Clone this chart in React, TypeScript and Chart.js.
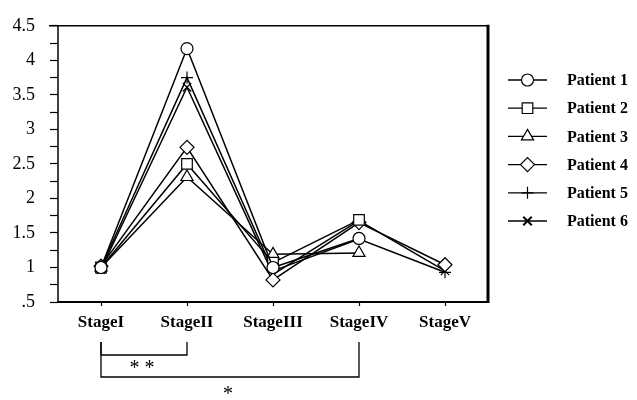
import React, { useEffect, useRef } from "react";
import { Chart, registerables } from "chart.js";

Chart.register(...registerables);

const stages = ["StageI", "StageII", "StageIII", "StageIV", "StageV"];
const patientNames = ["Patient 1", "Patient 2", "Patient 3", "Patient 4", "Patient 5", "Patient 6"];
const patient1 = [1.0, 4.17, 1.0, 1.42, null];
const patient2 = [1.0, 2.5, 1.07, 1.69, null];
const patient3 = [1.0, 2.31, 1.19, 1.21, null];
const patient4 = [1.02, 2.74, 0.82, 1.65, 1.04];
const patient5 = [1.0, 3.75, 0.95, 1.41, 0.93];
const patient6 = [0.97, 3.61, 0.9, 1.68, 0.95];
const pointStyles = ["circle", "rect", "triangle", "rectRot", "cross", "crossRot"];
const pointSizes = [6, 7.5, 7, 7, 6, 6];
const yMin = 0.5;
const yMax = 4.5;
const yStep = 0.25;
const bracketFrom = [0, 0];
const bracketTo = [1, 3];
const bracketLabels = ["* *", "*"];

const SERIF = '"Liberation Serif", "Times New Roman", serif';

function drawPointShape(ctx: CanvasRenderingContext2D, style: string, r: number, x: number, y: number) {
  ctx.beginPath();
  switch (style) {
    case "circle":
      ctx.arc(x, y, r, 0, Math.PI * 2);
      ctx.fill();
      ctx.stroke();
      break;
    case "rect": {
      const s = Math.SQRT1_2 * r;
      ctx.rect(x - s, y - s, 2 * s, 2 * s);
      ctx.fill();
      ctx.stroke();
      break;
    }
    case "triangle": {
      ctx.moveTo(x, y - r);
      ctx.lineTo(x + r * Math.sin((Math.PI * 2) / 3), y - r * Math.cos((Math.PI * 2) / 3));
      ctx.lineTo(x - r * Math.sin((Math.PI * 2) / 3), y - r * Math.cos((Math.PI * 2) / 3));
      ctx.closePath();
      ctx.fill();
      ctx.stroke();
      break;
    }
    case "rectRot":
      ctx.moveTo(x, y - r);
      ctx.lineTo(x + r, y);
      ctx.lineTo(x, y + r);
      ctx.lineTo(x - r, y);
      ctx.closePath();
      ctx.fill();
      ctx.stroke();
      break;
    case "cross":
      ctx.moveTo(x, y - r);
      ctx.lineTo(x, y + r);
      ctx.moveTo(x - r, y);
      ctx.lineTo(x + r, y);
      ctx.stroke();
      break;
    case "crossRot": {
      const d = r * Math.SQRT1_2;
      ctx.lineWidth = 2;
      ctx.moveTo(x - d, y - d);
      ctx.lineTo(x + d, y + d);
      ctx.moveTo(x + d, y - d);
      ctx.lineTo(x - d, y + d);
      ctx.stroke();
      break;
    }
  }
}

const decorPlugin = {
  id: "decor",
  afterDraw(chart: any) {
    const { ctx, chartArea } = chart;
    const { left, right, top, bottom } = chartArea;
    const xs = chart.scales.x;
    ctx.save();
    ctx.strokeStyle = "#000";
    ctx.fillStyle = "#000";
    // frame
    ctx.lineWidth = 1.5;
    ctx.beginPath();
    ctx.moveTo(left - 9, top);
    ctx.lineTo(right, top);
    ctx.stroke();
    ctx.beginPath();
    ctx.moveTo(left, top);
    ctx.lineTo(left, bottom);
    ctx.stroke();
    ctx.lineWidth = 2;
    ctx.beginPath();
    ctx.moveTo(left - 1, bottom);
    ctx.lineTo(right, bottom);
    ctx.stroke();
    ctx.lineWidth = 3;
    ctx.beginPath();
    ctx.moveTo(right, top - 1);
    ctx.lineTo(right, bottom + 1);
    ctx.stroke();

    // legend
    const datasets = chart.data.datasets;
    const lx0 = right + 20;
    const lx1 = right + 59;
    const tx = right + 79;
    datasets.forEach((ds: any, i: number) => {
      const y = 80 + i * 28.2;
      ctx.lineWidth = 1.3;
      ctx.strokeStyle = "#000";
      ctx.beginPath();
      ctx.moveTo(lx0, y);
      ctx.lineTo(lx1, y);
      ctx.stroke();
      ctx.fillStyle = "#fff";
      ctx.lineWidth = 1.2;
      drawPointShape(ctx, ds.pointStyle, ds.pointRadius, (lx0 + lx1) / 2, y);
      ctx.fillStyle = "#000";
      ctx.font = `bold 16px ${SERIF}`;
      ctx.textAlign = "left";
      ctx.textBaseline = "middle";
      ctx.fillText(ds.label, tx, y + 1);
    });

    // significance brackets
    const baseY = bottom + 40;
    const depths = [53, 75];
    const labelOffsets = [14, 18];
    ctx.lineWidth = 1.3;
    ctx.strokeStyle = "#000";
    bracketFrom.forEach((f, i) => {
      const x0 = xs.getPixelForValue(f);
      const x1 = xs.getPixelForValue(bracketTo[i]);
      const yb = bottom + depths[i];
      ctx.beginPath();
      ctx.moveTo(x0, baseY);
      ctx.lineTo(x0, yb);
      ctx.lineTo(x1, yb);
      ctx.lineTo(x1, baseY);
      ctx.stroke();
      ctx.font = `20px ${SERIF}`;
      ctx.textAlign = "center";
      ctx.textBaseline = "middle";
      ctx.fillText(bracketLabels[i], (x0 + x1) / 2 - 2, yb + labelOffsets[i]);
    });
    ctx.restore();
  },
};

export default function App() {
  const ref = useRef<HTMLCanvasElement | null>(null);
  useEffect(() => {
    if (!ref.current) return;
    const series = [patient1, patient2, patient3, patient4, patient5, patient6];
    const chart = new Chart(ref.current, {
      type: "line",
      data: {
        labels: stages,
        datasets: series.map((d, i) => ({
          label: patientNames[i],
          data: d,
          borderColor: "#000",
          borderWidth: 1.5,
          tension: 0,
          fill: false,
          pointStyle: pointStyles[i] as any,
          pointRadius: pointSizes[i],
          pointBackgroundColor: "#fff",
          pointBorderColor: "#000",
          pointBorderWidth: 1.2,
          spanGaps: false,
        })),
      },
      options: {
        responsive: false,
        animation: false,
        events: [],
        layout: { padding: { top: 13, right: 149, bottom: 0, left: 0 } },
        plugins: {
          legend: { display: false },
          tooltip: { enabled: false },
        },
        scales: {
          x: {
            type: "category",
            offset: true,
            grid: {
              offset: false,
              drawOnChartArea: false,
              drawTicks: true,
              tickLength: 4,
              color: "#000",
              tickWidth: 1.2,
            },
            border: { display: false },
            ticks: {
              color: "#000",
              font: { family: SERIF, size: 17, weight: "bold" },
              padding: 6,
              maxRotation: 0,
              autoSkip: false,
            },
            afterFit: (s: any) => {
              s.height = 98;
            },
          },
          y: {
            min: yMin,
            max: yMax,
            grid: {
              drawOnChartArea: false,
              drawTicks: true,
              tickLength: 8,
              color: "#000",
              tickWidth: 1.2,
            },
            border: { display: false },
            ticks: {
              stepSize: yStep,
              color: "#000",
              font: { family: SERIF, size: 18 },
              padding: 15,
              autoSkip: false,
              callback: (v: any) => {
                const n = Number(v);
                if (Math.abs(n * 2 - Math.round(n * 2)) > 1e-6) return "";
                return n === 0.5 ? ".5" : String(n);
              },
            },
            afterFit: (s: any) => {
              s.width = 58;
            },
          },
        },
      },
      plugins: [decorPlugin],
    });
    return () => chart.destroy();
  }, []);
  return (
    <div style={{ position: "absolute", left: 0, top: 0, width: 637, height: 400, background: "#fff" }}>
      <canvas ref={ref} width={637} height={400} />
    </div>
  );
}
